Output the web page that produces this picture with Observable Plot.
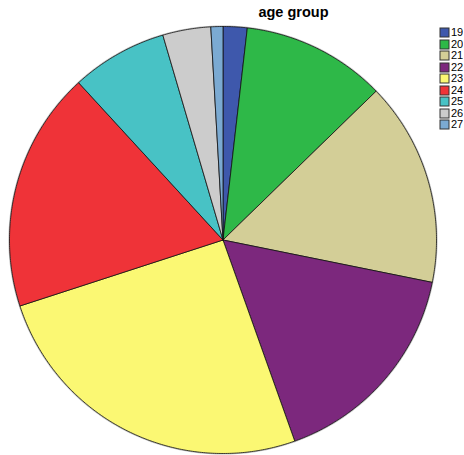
<!DOCTYPE html>
<html>
<head>
<meta charset="utf-8">
<script src="https://cdn.jsdelivr.net/npm/d3@7"></script>
<script src="https://cdn.jsdelivr.net/npm/@observablehq/plot@0.6"></script>
<style>
  html, body { margin: 0; padding: 0; background: #fff; }
  #wrap { position: relative; width: 464px; height: 455px; font-family: "Liberation Sans", Arial, sans-serif; }
  #title { position: absolute; left: 0; width: 587px; top: 4px; text-align: center; font-weight: bold; font-size: 14.5px; color: #000; }
  #legend { position: absolute; left: 440px; top: 27px; }
  #legend * { font-family: "Liberation Sans", Arial, sans-serif !important; font-size: 11px !important; color: #000 !important; }
  #legend [class$="-swatch"] { display: flex; align-items: center; height: 11.5px !important; line-height: 11.5px !important; padding: 0 !important; margin: 0 !important; }
  #legend [class$="-swatch"] svg { margin-right: 2px !important; overflow: visible; }
  #legend [class$="-swatch"] svg rect { stroke: #333; stroke-width: 1; }
  #legend div { margin-left: 0 !important; }
</style>
</head>
<body>
<div id="wrap">
  <div id="chart"></div>
  <div id="title">age group</div>
  <div id="legend"></div>
</div>
<script>
const ages = ["19", "20", "21", "22", "23", "24", "25", "26", "27"];
const counts = [2, 12, 17, 18, 28, 20, 8, 4, 1];
const colors = ["#3E58AC", "#2EB848", "#D3CE97", "#7C287D", "#FBF873", "#EF3338", "#48C2C5", "#CCCCCC", "#7BAAD2"];

const arcs = d3.pie().sort(null).value(d => d)(counts);
const pts = [];
arcs.forEach((a, i) => {
  const age = ages[i];
  const n = Math.max(2, Math.ceil((a.endAngle - a.startAngle) / (Math.PI / 360)));
  pts.push({age, x: 0, y: 0});
  for (let k = 0; k <= n; k++) {
    const t = a.startAngle + (a.endAngle - a.startAngle) * k / n;
    pts.push({age, x: Math.sin(t), y: Math.cos(t)});
  }
  pts.push({age, x: 0, y: 0});
});

const rim = d3.range(0, 361).map(d => ({x: Math.sin(d * Math.PI / 180), y: Math.cos(d * Math.PI / 180)}));

const chart = Plot.plot({
  width: 464,
  height: 455,
  marginLeft: 9,
  marginRight: 28,
  marginTop: 26,
  marginBottom: 2,
  x: {domain: [-1, 1], axis: null},
  y: {domain: [-1, 1], axis: null},
  color: {domain: ages, range: colors},
  marks: [
    Plot.line(rim, {x: "x", y: "y", stroke: "#999", strokeWidth: 2.2, strokeOpacity: 0.6}),
    Plot.line(pts, {x: "x", y: "y", z: "age", fill: "age", stroke: "#111", strokeWidth: 0.8, strokeLinejoin: "round"})
  ]
});
document.getElementById("chart").appendChild(chart);

const legend = Plot.legend({
  color: {domain: ages, range: colors},
  legend: "swatches",
  columns: 1,
  swatchSize: 9
});
document.getElementById("legend").appendChild(legend);
</script>
</body>
</html>
